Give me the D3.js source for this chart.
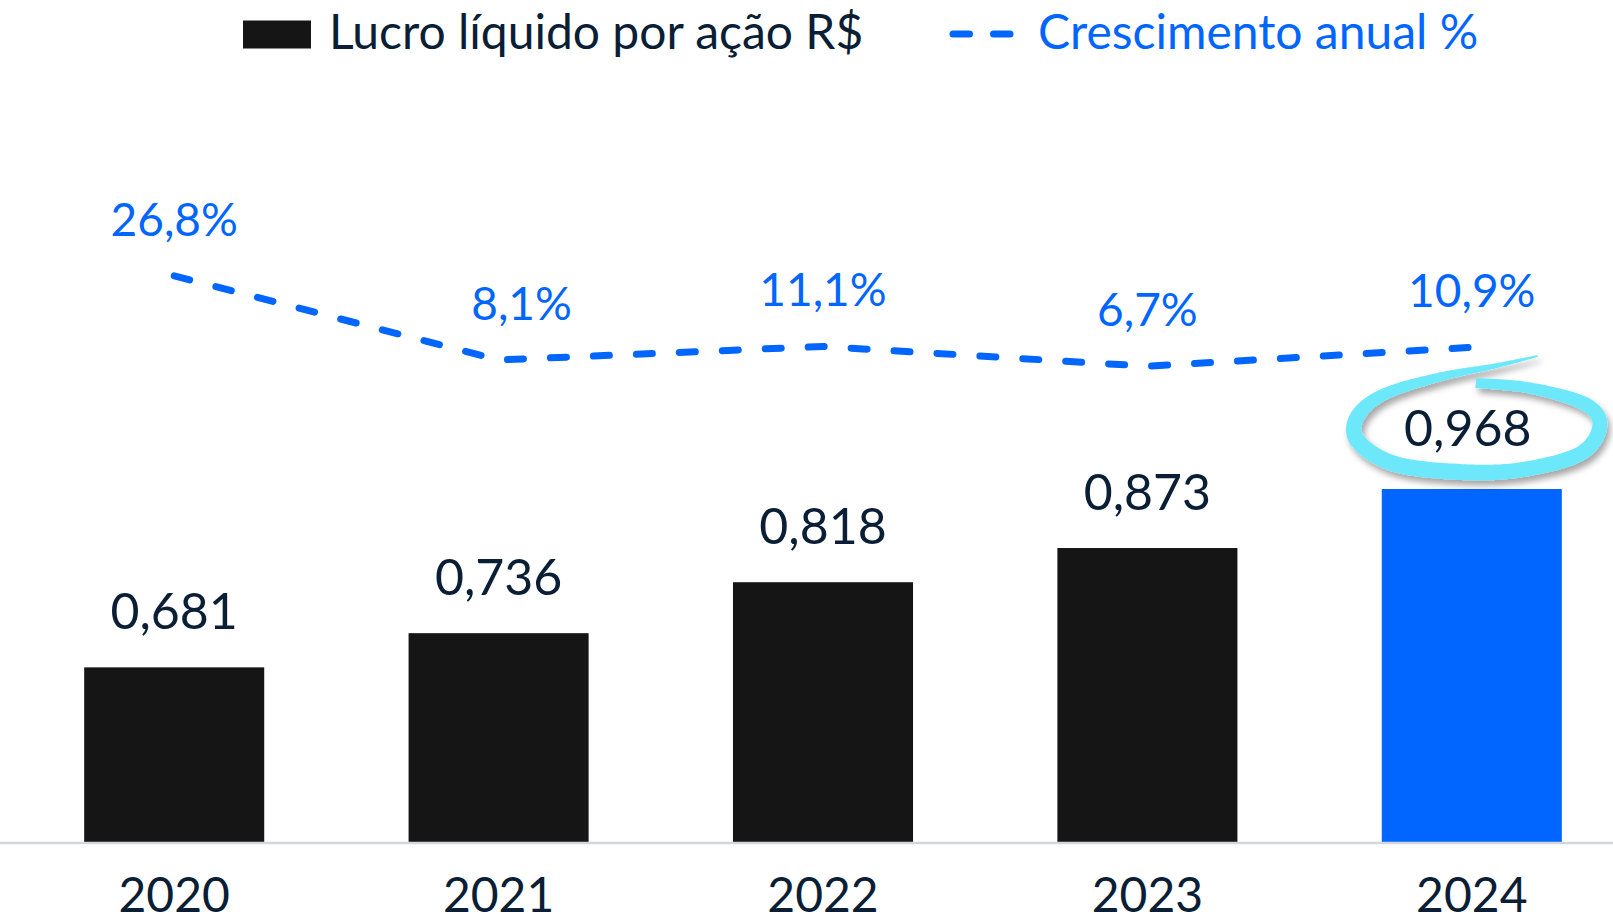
<!DOCTYPE html>
<html lang="pt-BR">
<head>
<meta charset="utf-8">
<script src="https://cdn.jsdelivr.net/npm/d3@7"></script>
<style>
  html, body { margin: 0; padding: 0; background: #ffffff; }
  svg { display: block; font-family: Lato, "Noto Sans", sans-serif; }
</style>
</head>
<body>
<svg id="chart" width="1613" height="923"></svg>
<script>
// Lucro líquido por ação (R$) e crescimento anual (%)
const years = ["2020", "2021", "2022", "2023", "2024"];
const epsValues = [0.681, 0.736, 0.818, 0.873, 0.968];
const growthValues = [26.8, 8.1, 11.1, 6.7, 10.9];
const epsLabels = ["0,681", "0,736", "0,818", "0,873", "0,968"];
const growthLabels = ["26,8%", "8,1%", "11,1%", "6,7%", "10,9%"];
const legendLabels = ["Lucro líquido por ação R$", "Crescimento anual %"];
const highlightYear = "2024";

const W = 1613, H = 923;
const navy = "#0a1e36";
const blue = "#0066ff";
const barDark = "#151515";
const cyan = "#6de8fb";

const svg = d3.select("#chart");

const defs = svg.append("defs");
const shadow = defs.append("filter").attr("id", "softShadow")
  .attr("x", "-20%").attr("y", "-30%").attr("width", "140%").attr("height", "160%");
shadow.append("feDropShadow")
  .attr("dx", 3).attr("dy", 5).attr("stdDeviation", 3)
  .attr("flood-color", "#000").attr("flood-opacity", 0.35);

// Scales
const x = d3.scaleBand().domain(years).range([12, 1634]).paddingInner(0.445).paddingOuter(0.2225);
const baseY = 842;
const y = d3.scaleLinear().domain([0.4, 1.0]).range([baseY, baseY - 372.9]);
const y2 = d3.scaleLinear().domain([0, 30]).range([396.4, 261.4]);
const cx = d => x(d) + x.bandwidth() / 2;

// Bars
svg.append("g").selectAll("rect")
  .data(years)
  .join("rect")
  .attr("x", d => x(d))
  .attr("width", x.bandwidth())
  .attr("y", (d, i) => y(epsValues[i]))
  .attr("height", (d, i) => baseY - y(epsValues[i]))
  .attr("fill", d => d === highlightYear ? blue : barDark);

// Baseline axis with year labels
const xAxis = d3.axisBottom(x).tickSize(0);
const axisG = svg.append("g").attr("transform", `translate(0,${baseY + 1})`).call(xAxis);
axisG.select(".domain").attr("stroke", "#d3d7dc").attr("stroke-width", 2.5)
  .attr("d", `M0,0H${W}`);
axisG.selectAll("text")
  .attr("fill", navy)
  .attr("font-size", 48)
  .attr("font-family", "Lato, 'Noto Sans', sans-serif")
  .attr("dy", 0)
  .attr("y", 69);

// Value labels above bars
svg.append("g").selectAll("text")
  .data(years)
  .join("text")
  .attr("x", d => cx(d) - (d === highlightYear ? 4 : 0))
  .attr("y", (d, i) => y(epsValues[i]) - 38 - (d === highlightYear ? 5 : 0))
  .attr("text-anchor", "middle")
  .attr("font-size", 50)
  .attr("fill", navy)
  .text((d, i) => epsLabels[i]);

// Growth line (dashed)
const line = d3.line()
  .x((d, i) => cx(years[i]))
  .y(d => y2(d));
svg.append("path")
  .datum(growthValues)
  .attr("d", line)
  .attr("fill", "none")
  .attr("stroke", blue)
  .attr("stroke-width", 7)
  .attr("stroke-linecap", "round")
  .attr("stroke-linejoin", "round")
  .attr("stroke-dasharray", "16 27");

// Growth labels
const growthNudge = [0, 23, 0, 0, 0];
svg.append("g").selectAll("text")
  .data(growthValues)
  .join("text")
  .attr("x", (d, i) => cx(years[i]) + growthNudge[i])
  .attr("y", d => y2(d) - 40)
  .attr("text-anchor", "middle")
  .attr("font-size", 46)
  .attr("fill", blue)
  .text((d, i) => growthLabels[i]);

// Hand-drawn highlight loop around the 2024 value
(function drawLoop() {
  const hi = years.indexOf(highlightYear);
  const ax = cx(highlightYear);
  const ay = y(epsValues[hi]) - 38 - 5 - 18;
  const pts = [
    [4, -45], [58, -40], [113, -24], [128, -2], [108, 26], [48, 42], [-12, 44],
    [-77, 36], [-114, 13], [-114, -12], [-87, -34], [-32, -51], [23, -62], [66, -72]
  ];
  const widths = [10, 11, 14, 15, 15, 15, 16, 16, 16, 15, 12, 9, 5, 1.5];
  const P = i => pts[Math.max(0, Math.min(pts.length - 1, i))];
  const samples = [];
  const steps = 24;
  for (let i = 0; i < pts.length - 1; i++) {
    const p0 = P(i - 1), p1 = P(i), p2 = P(i + 1), p3 = P(i + 2);
    for (let s = 0; s < steps; s++) {
      const t = s / steps, t2 = t * t, t3 = t2 * t;
      const f = k => 0.5 * (2 * p1[k] + (-p0[k] + p2[k]) * t +
        (2 * p0[k] - 5 * p1[k] + 4 * p2[k] - p3[k]) * t2 +
        (-p0[k] + 3 * p1[k] - 3 * p2[k] + p3[k]) * t3);
      samples.push({ x: ax + f(0), y: ay + f(1), w: widths[i] + (widths[i + 1] - widths[i]) * t });
    }
  }
  const last = pts[pts.length - 1];
  samples.push({ x: ax + last[0], y: ay + last[1], w: widths[widths.length - 1] });
  const left = [], right = [];
  samples.forEach((p, i) => {
    const a = samples[Math.max(0, i - 1)], b = samples[Math.min(samples.length - 1, i + 1)];
    const dx = b.x - a.x, dy = b.y - a.y;
    const len = Math.hypot(dx, dy) || 1;
    const nx = -dy / len, ny = dx / len;
    left.push([p.x + nx * p.w / 2, p.y + ny * p.w / 2]);
    right.push([p.x - nx * p.w / 2, p.y - ny * p.w / 2]);
  });
  const outline = left.concat(right.reverse());
  svg.append("path")
    .attr("d", "M" + outline.map(p => p.join(",")).join("L") + "Z")
    .attr("fill", cyan)
    .attr("filter", "url(#softShadow)");
})();

// Legend
const legend = svg.append("g");
legend.append("rect")
  .attr("x", 243).attr("y", 20.5).attr("width", 68).attr("height", 28)
  .attr("fill", barDark);
legend.append("text")
  .attr("x", 329).attr("y", 48.5)
  .attr("font-size", 48)
  .attr("fill", navy)
  .text(legendLabels[0]);
legend.append("line")
  .attr("x1", 953).attr("x2", 1010).attr("y1", 34).attr("y2", 34)
  .attr("stroke", blue).attr("stroke-width", 7)
  .attr("stroke-linecap", "round")
  .attr("stroke-dasharray", "16.5 24");
legend.append("text")
  .attr("x", 1038).attr("y", 48.5)
  .attr("font-size", 48)
  .attr("fill", blue)
  .text(legendLabels[1]);
</script>
</body>
</html>
